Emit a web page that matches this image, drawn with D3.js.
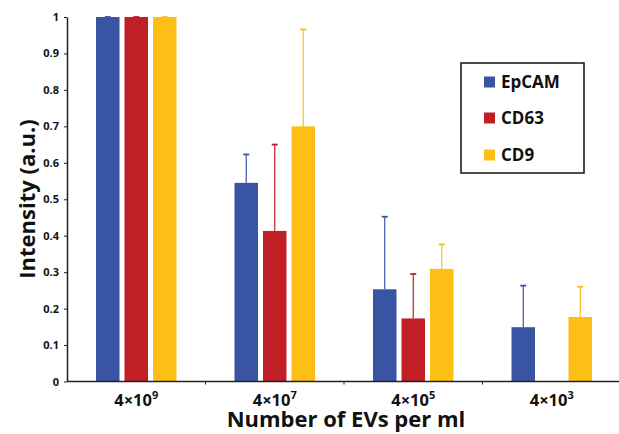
<!DOCTYPE html>
<html>
<head>
    <meta charset="utf-8" />
    <title>Intensity vs EVs</title>
    <script type="text/javascript" src="https://cdn.jsdelivr.net/npm/d3@7"></script>
    <style>
        body { margin: 0; background: #fff; }
        text { font-family: "Open Sans", "Liberation Sans", sans-serif; font-weight: bold; fill: #111; }
    </style>
</head>
<body>
    <script type="text/javascript">

        // Data
        var categories = ["4×10", "4×10", "4×10", "4×10"];
        var exponents = ["9", "7", "5", "3"];
        var series = ["EpCAM", "CD63", "CD9"];
        var colors = ["#3A54A4", "#C11F26", "#FDBE16"];

        var epcam = [1, 0.545, 0.253, 0.149];
        var cd63 = [1, 0.413, 0.173, null];
        var cd9 = [1, 0.700, 0.309, 0.177];

        // upper error (only the + side is drawn)
        var epcamErr = [0, 0.078, 0.199, 0.114];
        var cd63Err = [0, 0.237, 0.122, null];
        var cd9Err = [0, 0.266, 0.067, 0.083];

        var yTicks = [0, 0.1, 0.2, 0.3, 0.4, 0.5, 0.6, 0.7, 0.8, 0.9, 1];

        var values = [epcam, cd63, cd9];
        var errors = [epcamErr, cd63Err, cd9Err];

        // Width and height
        var w = 619;
        var h = 434;

        var svg = d3.select("body")
            .append("svg")
            .attr("width", w)
            .attr("height", h);

        var groupIdx = d3.range(categories.length);

        var x0 = d3.scaleBand()
            .domain(groupIdx)
            .range([67, 621]);

        var x1 = d3.scaleBand()
            .domain(series)
            .range([29, 109.5])
            .paddingInner(0.175);

        var yScale = d3.scaleLinear()
            .domain([0, 1])
            .range([381.5, 17]);

        // bars
        var flat = [];
        groupIdx.forEach(function (g) {
            series.forEach(function (s, si) {
                if (values[si][g] != null) {
                    flat.push({ g: g, s: s, si: si, v: values[si][g], e: errors[si][g] });
                }
            });
        });

        svg.append("g")
            .selectAll("rect")
            .data(flat)
            .enter()
            .append("rect")
            .attr("x", function (d) { return x0(d.g) + x1(d.s); })
            .attr("y", function (d) { return yScale(d.v); })
            .attr("width", x1.bandwidth())
            .attr("height", function (d) { return yScale(0) - yScale(d.v); })
            .attr("fill", function (d) { return colors[d.si]; });

        // error bars
        var eb = svg.append("g")
            .selectAll("g")
            .data(flat)
            .enter()
            .append("g")
            .attr("stroke", function (d) { return colors[d.si]; })
            .attr("stroke-width", 1.2);

        eb.append("line")
            .attr("x1", function (d) { return x0(d.g) + x1(d.s) + x1.bandwidth() / 2; })
            .attr("x2", function (d) { return x0(d.g) + x1(d.s) + x1.bandwidth() / 2; })
            .attr("y1", function (d) { return yScale(d.v); })
            .attr("y2", function (d) { return yScale(d.v + d.e); });

        eb.append("line")
            .attr("x1", function (d) { return x0(d.g) + x1(d.s) + x1.bandwidth() / 2 - 3; })
            .attr("x2", function (d) { return x0(d.g) + x1(d.s) + x1.bandwidth() / 2 + 3; })
            .attr("y1", function (d) { return yScale(d.v + d.e); })
            .attr("y2", function (d) { return yScale(d.v + d.e); })
            .attr("stroke-width", 1.8);

        // y axis
        var yAxis = d3.axisLeft(yScale)
            .tickValues(yTicks)
            .tickFormat(d3.format("~g"))
            .tickSize(3)
            .tickSizeOuter(0);

        var gy = svg.append("g")
            .attr("transform", "translate(67,0)")
            .call(yAxis);
        gy.select(".domain").attr("stroke", "#222").attr("stroke-width", 1.5);
        gy.selectAll(".tick line").attr("stroke", "#222");
        gy.selectAll(".tick text")
            .attr("x", -8)
            .style("font-size", "11px")
            .style("font-family", "'Open Sans', sans-serif")
            .style("font-weight", "bold")
            .attr("fill", "#222");

        // x axis line with ticks at band boundaries
        var gx = svg.append("g");
        gx.append("line")
            .attr("x1", 67).attr("x2", w)
            .attr("y1", yScale(0)).attr("y2", yScale(0))
            .attr("stroke", "#222").attr("stroke-width", 1.5);
        gx.selectAll(".xtick")
            .data(groupIdx.slice(1))
            .enter()
            .append("line")
            .attr("x1", function (d) { return x0(d); })
            .attr("x2", function (d) { return x0(d); })
            .attr("y1", yScale(0))
            .attr("y2", yScale(0) + 3)
            .attr("stroke", "#222");

        var xl = gx.selectAll(".xlab")
            .data(groupIdx)
            .enter()
            .append("text")
            .attr("x", function (d) { return x0(d) + x0.bandwidth() / 2; })
            .attr("y", 406)
            .attr("text-anchor", "middle")
            .style("font-size", "16.5px");
        xl.append("tspan").text(function (d) { return categories[d]; });
        xl.append("tspan")
            .attr("dy", -7)
            .style("font-size", "11px")
            .text(function (d) { return exponents[d]; });

        // axis titles
        svg.append("text")
            .attr("x", 346)
            .attr("y", 427)
            .attr("text-anchor", "middle")
            .style("font-size", "22px")
            .text("Number of EVs per ml");

        svg.append("text")
            .attr("transform", "translate(35,199) rotate(-90)")
            .attr("text-anchor", "middle")
            .style("font-size", "22px")
            .text("Intensity (a.u.)");

        // legend
        var lg = svg.append("g").attr("transform", "translate(461,63)");
        lg.append("rect")
            .attr("width", 123)
            .attr("height", 110)
            .attr("fill", "#fff")
            .attr("stroke", "#111")
            .attr("stroke-width", 1.5);
        var li = lg.selectAll(".li")
            .data(series)
            .enter()
            .append("g")
            .attr("transform", function (d, i) { return "translate(23," + [19, 55, 92][i] + ")"; });
        li.append("rect")
            .attr("y", -5.5)
            .attr("width", 11)
            .attr("height", 11)
            .attr("fill", function (d, i) { return colors[i]; });
        li.append("text")
            .attr("x", 17)
            .attr("dy", "0.36em")
            .style("font-size", "17px")
            .text(function (d) { return d; });

    </script>
</body>
</html>
